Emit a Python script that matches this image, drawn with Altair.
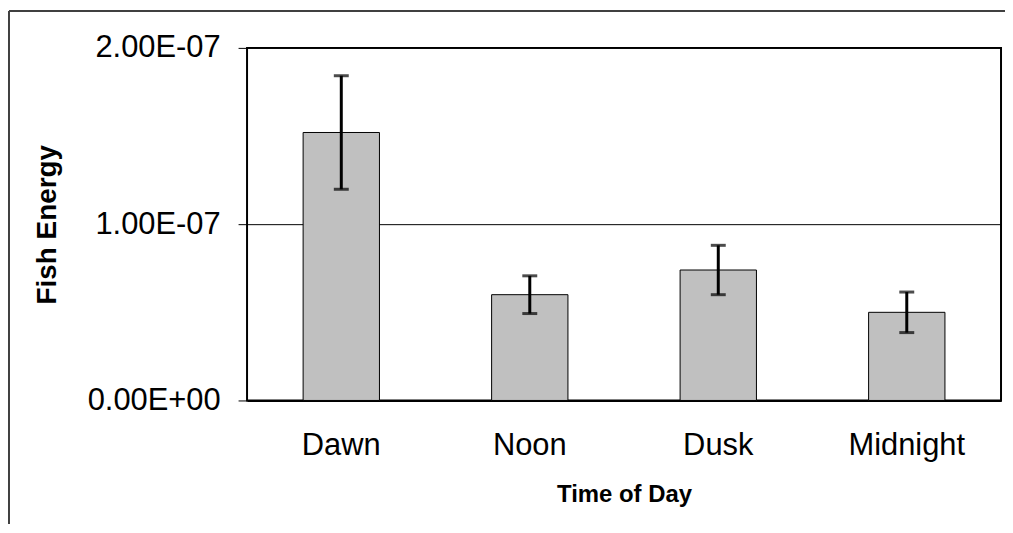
import altair as alt
import pandas as pd

categories = ["Dawn", "Noon", "Dusk", "Midnight"]
means = [1.52e-7, 0.60e-7, 0.74e-7, 0.50e-7]
errors = [0.322e-7, 0.107e-7, 0.14e-7, 0.115e-7]
y_ticks = [0, 1e-7, 2e-7]

df = pd.DataFrame({"cat": categories, "mean": means, "err": errors})
df["lo"] = df["mean"] - df["err"]
df["hi"] = df["mean"] + df["err"]

FONT = "Liberation Sans"

x_enc = alt.X(
    "cat:N",
    sort=categories,
    scale=alt.Scale(paddingInner=0.595, paddingOuter=0.2975),
    axis=alt.Axis(
        title="Time of Day",
        labelAngle=0,
        ticks=False,
        labelFontSize=31,
        labelFont=FONT,
        labelColor="#000",
        labelPadding=30,
        domain=True,
        domainColor="#000",
        domainWidth=2,
        titleFont=FONT,
        titleFontSize=24,
        titleFontWeight="bold",
        titleColor="#000",
        titleBaseline="alphabetic",
        titleY=101,
        grid=False,
    ),
)

y_scale = alt.Scale(domain=[0, 2e-7], nice=False, zero=True)

base = alt.Chart(df)

bars = base.mark_bar(fill="#c0c0c0", stroke="#000", strokeWidth=1).encode(
    x=x_enc,
    y=alt.Y(
        "mean:Q",
        scale=y_scale,
        axis=alt.Axis(
            title="Fish Energy",
            values=y_ticks,
            labelExpr="replace(replace(format(datum.value, '.2e'), 'e-', 'E-0'), 'e+', 'E+0')",
            labelFontSize=31,
            labelFont=FONT,
            labelColor="#000",
            labelPadding=18,
            tickSize=9,
            tickColor="#000",
            tickWidth=1,
            domain=False,
            grid=True,
            gridColor="#000",
            gridWidth=1,
            titleFont=FONT,
            titleFontSize=28,
            titleFontWeight="bold",
            titleColor="#000",
            titleBaseline="alphabetic",
            titleAngle=-90,
            titleX=-192,
        ),
    ),
)

rules = base.mark_rule(color="#000", strokeWidth=3).encode(
    x=alt.X("cat:N", sort=categories),
    y=alt.Y("lo:Q", scale=y_scale),
    y2="hi:Q",
)

caps_hi = base.mark_tick(color="#000", thickness=3, size=15).encode(
    x=alt.X("cat:N", sort=categories),
    y=alt.Y("hi:Q", scale=y_scale),
)
caps_lo = base.mark_tick(color="#000", thickness=3, size=15).encode(
    x=alt.X("cat:N", sort=categories),
    y=alt.Y("lo:Q", scale=y_scale),
)

frame_data = alt.Data(values=[{}])
frame_top = alt.Chart(frame_data).mark_rule(color="#404040", strokeWidth=2).encode(
    x=alt.value(-239), x2=alt.value(761), y=alt.value(-37)
)
frame_left = alt.Chart(frame_data).mark_rule(color="#404040", strokeWidth=2).encode(
    x=alt.value(-239), y=alt.value(-37), y2=alt.value(478)
)

chart = alt.layer(frame_top, frame_left, bars, rules, caps_hi, caps_lo).properties(
    width=757,
    height=354,
    autosize=alt.AutoSizeParams(type="none"),
    padding={"left": 240, "top": 39, "right": 4, "bottom": 124},
    background="white",
).configure_view(
    stroke="#000", strokeWidth=2
)

chart.save("out.html", embed_options={"renderer": "svg", "actions": False})
